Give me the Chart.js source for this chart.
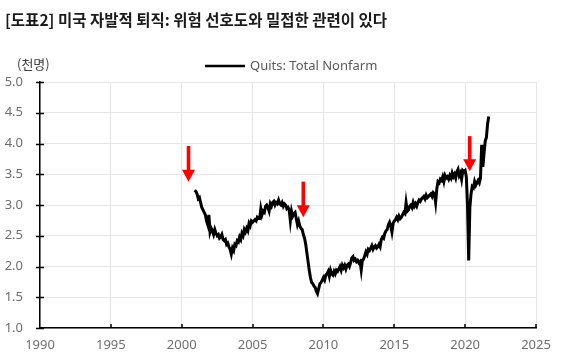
<!DOCTYPE html>
<html><head><meta charset="utf-8">
<script src="https://cdn.jsdelivr.net/npm/chart.js@4/dist/chart.umd.min.js"></script>
<style>
html,body{margin:0;padding:0;background:#fff;}
#wrap{position:relative;width:565px;height:361px;overflow:hidden;}
#title{position:absolute;left:5px;top:9px;font-weight:bold;font-size:15.5px;font-family:"Noto Sans CJK KR";color:#1a1a1a;white-space:nowrap;line-height:20px;}
#unit{position:absolute;left:17px;top:55px;font-size:13px;font-family:"Noto Sans CJK KR";color:#404040;line-height:18px;}
canvas{position:absolute;left:0;top:0;}
</style></head>
<body>
<div id="wrap">
<canvas id="c" width="565" height="361"></canvas>
<div id="title">[도표2] 미국 자발적 퇴직: 위험 선호도와 밀접한 관련이 있다</div>
<div id="unit">(천명)</div>
</div>
<script>
// Monthly series, Dec 2000 .. Sep 2021 (quits, total nonfarm)
const seriesLabel = 'Quits: Total Nonfarm';
const startYear = 2000;
const startMonth = 12;
const quits = [
  3.24,
  3.22, 3.18, 3.10, 3.12, 3.04, 2.96, 2.92, 2.88, 2.84, 2.74, 2.68, 2.84, // 2001
  2.56, 2.62, 2.58, 2.52, 2.60, 2.54, 2.50, 2.52, 2.46, 2.48, 2.52, 2.44, // 2002
  2.42, 2.44, 2.36, 2.38, 2.32, 2.28, 2.20, 2.30, 2.26, 2.36, 2.34, 2.42, // 2003
  2.40, 2.48, 2.44, 2.54, 2.50, 2.60, 2.56, 2.62, 2.58, 2.70, 2.66, 2.74, // 2004
  2.72, 2.74, 2.76, 2.74, 2.80, 2.78, 2.78, 2.94, 2.84, 2.90, 2.88, 2.98, // 2005
  3.00, 2.96, 2.90, 3.02, 2.98, 3.04, 3.06, 3.00, 3.04, 3.02, 3.08, 3.02, // 2006
  3.00, 3.04, 2.98, 3.02, 3.00, 2.94, 2.96, 2.92, 2.74, 2.90, 2.82, 2.86, // 2007
  2.88, 2.78, 2.68, 2.74, 2.66, 2.62, 2.60, 2.52, 2.46, 2.36, 2.22, 2.08, // 2008
  1.94, 1.82, 1.74, 1.72, 1.68, 1.66, 1.60, 1.56, 1.64, 1.72, 1.74, 1.78, // 2009
  1.82, 1.78, 1.86, 1.88, 1.92, 1.84, 1.94, 1.88, 1.86, 1.92, 1.88, 1.94, // 2010
  1.92, 1.96, 2.00, 1.94, 2.02, 1.98, 2.02, 1.96, 2.02, 2.04, 2.00, 2.06, // 2011
  2.14, 2.16, 2.10, 2.12, 2.08, 2.10, 2.06, 2.08, 1.94, 2.10, 2.12, 2.18, // 2012
  2.24, 2.20, 2.28, 2.26, 2.30, 2.34, 2.28, 2.32, 2.34, 2.30, 2.32, 2.36, // 2013
  2.32, 2.44, 2.48, 2.46, 2.54, 2.58, 2.60, 2.68, 2.72, 2.66, 2.56, 2.70, // 2014
  2.74, 2.76, 2.80, 2.76, 2.82, 2.78, 2.80, 2.84, 2.88, 2.86, 3.04, 2.90, // 2015
  2.92, 2.98, 3.00, 2.96, 3.04, 2.98, 3.02, 2.98, 3.04, 3.08, 3.06, 3.10, // 2016
  3.12, 3.14, 3.10, 3.16, 3.12, 3.14, 3.16, 3.18, 3.14, 3.20, 3.18, 3.04, // 2017
  3.26, 3.38, 3.36, 3.42, 3.40, 3.46, 3.38, 3.48, 3.44, 3.46, 3.42, 3.48, // 2018
  3.44, 3.52, 3.46, 3.50, 3.44, 3.54, 3.58, 3.48, 3.52, 3.42, 3.56, 3.54, // 2019
  3.56, 3.46, 3.00, 2.10, 2.96, 3.18, 3.30, 3.28, 3.38, 3.32, 3.36, 3.40, // 2020
  3.36, 3.44, 3.98, 3.62, 3.84, 4.04, 4.10, 4.32, 4.44                    // 2021
];
// Axis ticks
const xTicks = [1990, 1995, 2000, 2005, 2010, 2015, 2020, 2025];
const yTicks = [1.0, 1.5, 2.0, 2.5, 3.0, 3.5, 4.0, 4.5, 5.0];
// Red arrows (year, top value, tip value)
const arrowYears = [2000.48, 2008.58, 2020.32];
const arrowTops  = [3.96, 3.38, 4.12];
const arrowTips  = [3.38, 2.80, 3.55];

const points = quits.map((v, i) => ({ x: startYear + (startMonth - 1 + i) / 12, y: v }));

const tickMarks = {
  id: 'tickMarks',
  afterDraw(chart) {
    const { ctx, chartArea: a, scales: { x, y } } = chart;
    ctx.save();
    ctx.strokeStyle = '#000';
    ctx.lineWidth = 1.5;
    ctx.beginPath();
    yTicks.forEach(v => { const py = Math.round(y.getPixelForValue(v)) + 0.5; ctx.moveTo(a.left - 4, py); ctx.lineTo(a.left + 4, py); });
    xTicks.forEach(v => { if (v === xTicks[0]) return; const px = Math.round(x.getPixelForValue(v)); ctx.moveTo(px, a.bottom); ctx.lineTo(px, a.bottom - 4); });
    ctx.stroke();
    ctx.restore();
  }
};

const arrows = {
  id: 'arrows',
  afterDatasetsDraw(chart) {
    const { ctx, scales: { x, y } } = chart;
    ctx.save();
    ctx.fillStyle = '#ff0000';
    arrowYears.forEach((yr, i) => {
      const px = x.getPixelForValue(yr);
      const top = y.getPixelForValue(arrowTops[i]);
      const tip = y.getPixelForValue(arrowTips[i]);
      const headLen = 12, headW = 13, shaftW = 3.6;
      ctx.fillRect(px - shaftW / 2, top, shaftW, tip - top - headLen + 1);
      ctx.beginPath();
      ctx.moveTo(px - headW / 2, tip - headLen);
      ctx.lineTo(px + headW / 2, tip - headLen);
      ctx.lineTo(px, tip);
      ctx.closePath();
      ctx.fill();
    });
    ctx.restore();
  }
};

const customLegend = {
  id: 'customLegend',
  afterDraw(chart) {
    const ctx = chart.ctx;
    const ds = chart.data.datasets[0];
    ctx.save();
    ctx.strokeStyle = '#000';
    ctx.lineWidth = 2.5;
    ctx.beginPath();
    ctx.moveTo(205, 66);
    ctx.lineTo(245, 66);
    ctx.stroke();
    ctx.fillStyle = '#595959';
    ctx.font = '13px "Noto Sans"';
    ctx.textBaseline = 'middle';
    ctx.textAlign = 'left';
    ctx.fillText(ds.label, 250, 66);
    ctx.restore();
  }
};

new Chart(document.getElementById('c'), {
  type: 'line',
  data: {
    datasets: [{
      label: seriesLabel,
      data: points,
      borderColor: '#000',
      borderWidth: 3,
      pointRadius: 0,
      tension: 0,
      fill: false
    }]
  },
  options: {
    responsive: false,
    animation: false,
    devicePixelRatio: 1,
    layout: { padding: { left: 0, right: 29, top: 82, bottom: 0 } },
    plugins: { legend: { display: false }, tooltip: { enabled: false }, title: { display: false } },
    scales: {
      x: {
        type: 'linear', min: 1990, max: 2025,
        afterBuildTicks(s) { s.ticks = xTicks.map(v => ({ value: v })); },
        afterFit(s) { s.height = 33; },
        ticks: { callback: v => String(v), color: '#6e6e6e', font: { family: 'Noto Sans', size: 13 }, padding: 9, maxRotation: 0, autoSkip: false },
        grid: { color: '#e6e6e6', lineWidth: 1, drawTicks: false },
        border: { display: true, color: '#000', width: 1.5 }
      },
      y: {
        type: 'linear', min: 1, max: 5,
        afterBuildTicks(s) { s.ticks = yTicks.map(v => ({ value: v })); },
        afterFit(s) { s.width = 40; },
        ticks: { callback: v => Number(v).toFixed(1), color: '#6e6e6e', font: { family: 'Noto Sans', size: 13 }, padding: 17 },
        grid: { color: '#e6e6e6', lineWidth: 1, drawTicks: false },
        border: { display: true, color: '#000', width: 1.5 }
      }
    }
  },
  plugins: [tickMarks, arrows, customLegend]
});
</script>
</body></html>
